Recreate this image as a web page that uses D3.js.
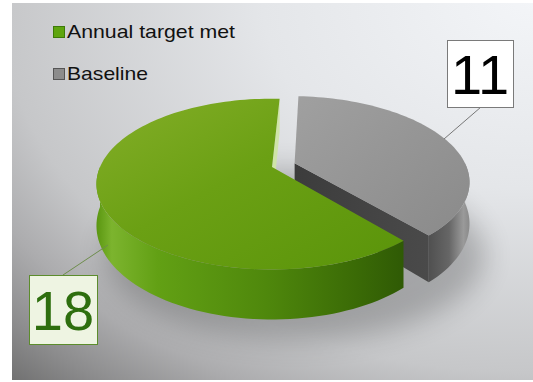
<!DOCTYPE html>
<html><head><meta charset="utf-8">
<script src="https://cdn.jsdelivr.net/npm/d3@7"></script>
<style>html,body{margin:0;padding:0;background:#fff;}svg{display:block;}</style>
</head><body>
<svg id="c" width="533" height="382"></svg>
<script>
// ---- data ----
const categories = ["Annual target met", "Baseline"];
const values = [18, 11];
const labelTexts = ["18", "11"];
const firstSliceAngle = 139.6; // degrees, clockwise from back

const svg = d3.select("#c");
const defs = svg.append("defs");

// background gradient
const bg = defs.append("radialGradient").attr("id","bg").attr("gradientUnits","userSpaceOnUse")
  .attr("cx",533).attr("cy",0).attr("r",540)
  .attr("gradientTransform","translate(533,0) scale(1.43,1) translate(-533,0)");
[[0,"#f3f5f8"],[0.35,"#e4e6e9"],[0.69,"#c6c7c9"],[0.8,"#acacae"],[0.9,"#8c8c8d"],[1,"#686868"]]
  .forEach(s=>bg.append("stop").attr("offset",s[0]).attr("stop-color",s[1]));
svg.append("rect").attr("x",12).attr("y",3).attr("width",521).attr("height",377).attr("fill","url(#bg)");

function lin(id, x2, y2, stops){
  const g = defs.append("linearGradient").attr("id",id).attr("x1",0).attr("y1",0).attr("x2",x2).attr("y2",y2);
  stops.forEach(s=>g.append("stop").attr("offset",s[0]).attr("stop-color",s[1]));
}
lin("gTop",1,1,[[0,"#84ae28"],[0.45,"#6ba014"],[1,"#5a940a"]]);
lin("gSide",1,0,[[0,"#5a9610"],[0.05,"#7cb42e"],[0.2,"#62a014"],[0.55,"#4f880c"],[0.85,"#3a6a06"],[1,"#2f5a05"]]);
lin("kTop",1,1,[[0,"#a0a0a0"],[1,"#8a8a8a"]]);
lin("kFace",1,0,[[0,"#3c3c3c"],[1,"#4a4a4a"]]);
lin("kSide",1,0,[[0,"#505050"],[0.5,"#666"],[0.85,"#9a9a9a"],[1,"#8a8a8a"]]);

const blur = defs.append("filter").attr("id","blur").attr("x","-30%").attr("y","-30%").attr("width","160%").attr("height","160%");
blur.append("feGaussianBlur").attr("stdDeviation",14);

// ---- projection ----
const cx = 272, cy = 167, sx = 172, sy = 82, p = 0.2, thick = 40;
const rad = d3.scaleLinear().domain([0,360]).range([0, 2*Math.PI]);
function proj(X, Z, h){
  const s = 1/(1 - p*Z);
  return [cx + X*sx*s, cy + Z*sy*s + h*s];
}
function rim(deg, off, h){
  const t = rad(deg);
  return proj(Math.sin(t)+off[0], -Math.cos(t)+off[1], h);
}
function apex(off, h){ return proj(off[0], off[1], h); }
function arcPts(a0, a1, off, h){
  const n = Math.max(2, Math.ceil(Math.abs(a1-a0)/2));
  return d3.range(n+1).map(i => rim(a0 + (a1-a0)*i/n, off, h));
}
const line = d3.line();

const pie = d3.pie().sort(null).value(d=>d)
  .startAngle(rad(firstSliceAngle)).endAngle(rad(firstSliceAngle+360));
const arcs = pie(values).map((a,i)=>({
  i, a0: a.startAngle*180/Math.PI, a1: a.endAngle*180/Math.PI
}));
const explode = [0, 0.14];
arcs.forEach(d=>{
  const m = rad((d.a0+d.a1)/2);
  d.off = [Math.sin(m)*explode[d.i], -Math.cos(m)*explode[d.i]];
});
const green = arcs[0], gray = arcs[1];

// shadow
svg.append("ellipse").attr("cx",295).attr("cy",255).attr("rx",190).attr("ry",85)
  .attr("fill","#000").attr("opacity",0.22).attr("filter","url(#blur)");

function visibleRanges(d){
  const out = [];
  for (let k=-1;k<=2;k++){
    const lo = Math.max(d.a0, 90+360*k), hi = Math.min(d.a1, 270+360*k);
    if (hi > lo) out.push([lo,hi]);
  }
  return out;
}
function drawSide(d, fill){
  visibleRanges(d).forEach(([lo,hi])=>{
    const top = arcPts(lo, hi, d.off, 0);
    const bot = arcPts(hi, lo, d.off, thick);
    svg.append("path").attr("d", line(top.concat(bot))+"Z").attr("fill",fill);
  });
}
function drawRadial(d, ang, fill){
  const pts = [apex(d.off,0), rim(ang,d.off,0), rim(ang,d.off,thick), apex(d.off,thick)];
  svg.append("path").attr("d", line(pts)+"Z").attr("fill",fill);
}
function drawTop(d, fill){
  const pts = [apex(d.off,0)].concat(arcPts(d.a0, d.a1, d.off, 0));
  svg.append("path").attr("d", line(pts)+"Z").attr("fill",fill);
}

// gray slice
drawSide(gray, "url(#kSide)");
drawRadial(gray, gray.a1, "url(#kFace)");
drawTop(gray, "url(#kTop)");
// green slice
drawRadial(green, green.a1, "#cfe4a8");
drawSide(green, "url(#gSide)");
drawTop(green, "url(#gTop)");

// ---- data labels ----
const lbl = [
  {box:[29,275,68,69], tx:63, ty:330, line:[[63,275],[108,245]], fill:"#eef4e2", stroke:"#5c8c2c", color:"#2e6e0e", lc:"#6d8c4c"},
  {box:[447,40,66,67], tx:480, ty:94, line:[[481,107],[444,139]], fill:"#ffffff", stroke:"#7a7a7a", color:"#000", lc:"#777"}
];
lbl.forEach((L,i)=>{
  svg.append("line").attr("x1",L.line[0][0]).attr("y1",L.line[0][1]).attr("x2",L.line[1][0]).attr("y2",L.line[1][1])
    .attr("stroke",L.lc).attr("stroke-width",1);
  svg.append("rect").attr("x",L.box[0]+0.5).attr("y",L.box[1]+0.5).attr("width",L.box[2]).attr("height",L.box[3])
    .attr("fill",L.fill).attr("stroke",L.stroke);
  svg.append("text").attr("x",L.tx).attr("y",L.ty).attr("text-anchor","middle")
    .attr("font-family","Liberation Sans, Arial, sans-serif").attr("font-size",56).attr("fill",L.color)
    .text(labelTexts[i]);
});

// ---- legend ----
const legFill = ["#5ea50e","#8c8c8c"], legStroke = ["#3d7a08","#555"];
const legY = [38, 80], legW = [168, 81];
categories.forEach((c,i)=>{
  svg.append("rect").attr("x",53.5).attr("y",legY[i]-11.5).attr("width",11).attr("height",11)
    .attr("fill",legFill[i]).attr("stroke",legStroke[i]);
  svg.append("text").attr("x",67).attr("y",legY[i]).attr("font-family","Liberation Sans, Arial, sans-serif")
    .attr("font-size",19).attr("fill","#111").attr("textLength",legW[i]).attr("lengthAdjust","spacingAndGlyphs").text(c);
});
</script>
</body></html>
